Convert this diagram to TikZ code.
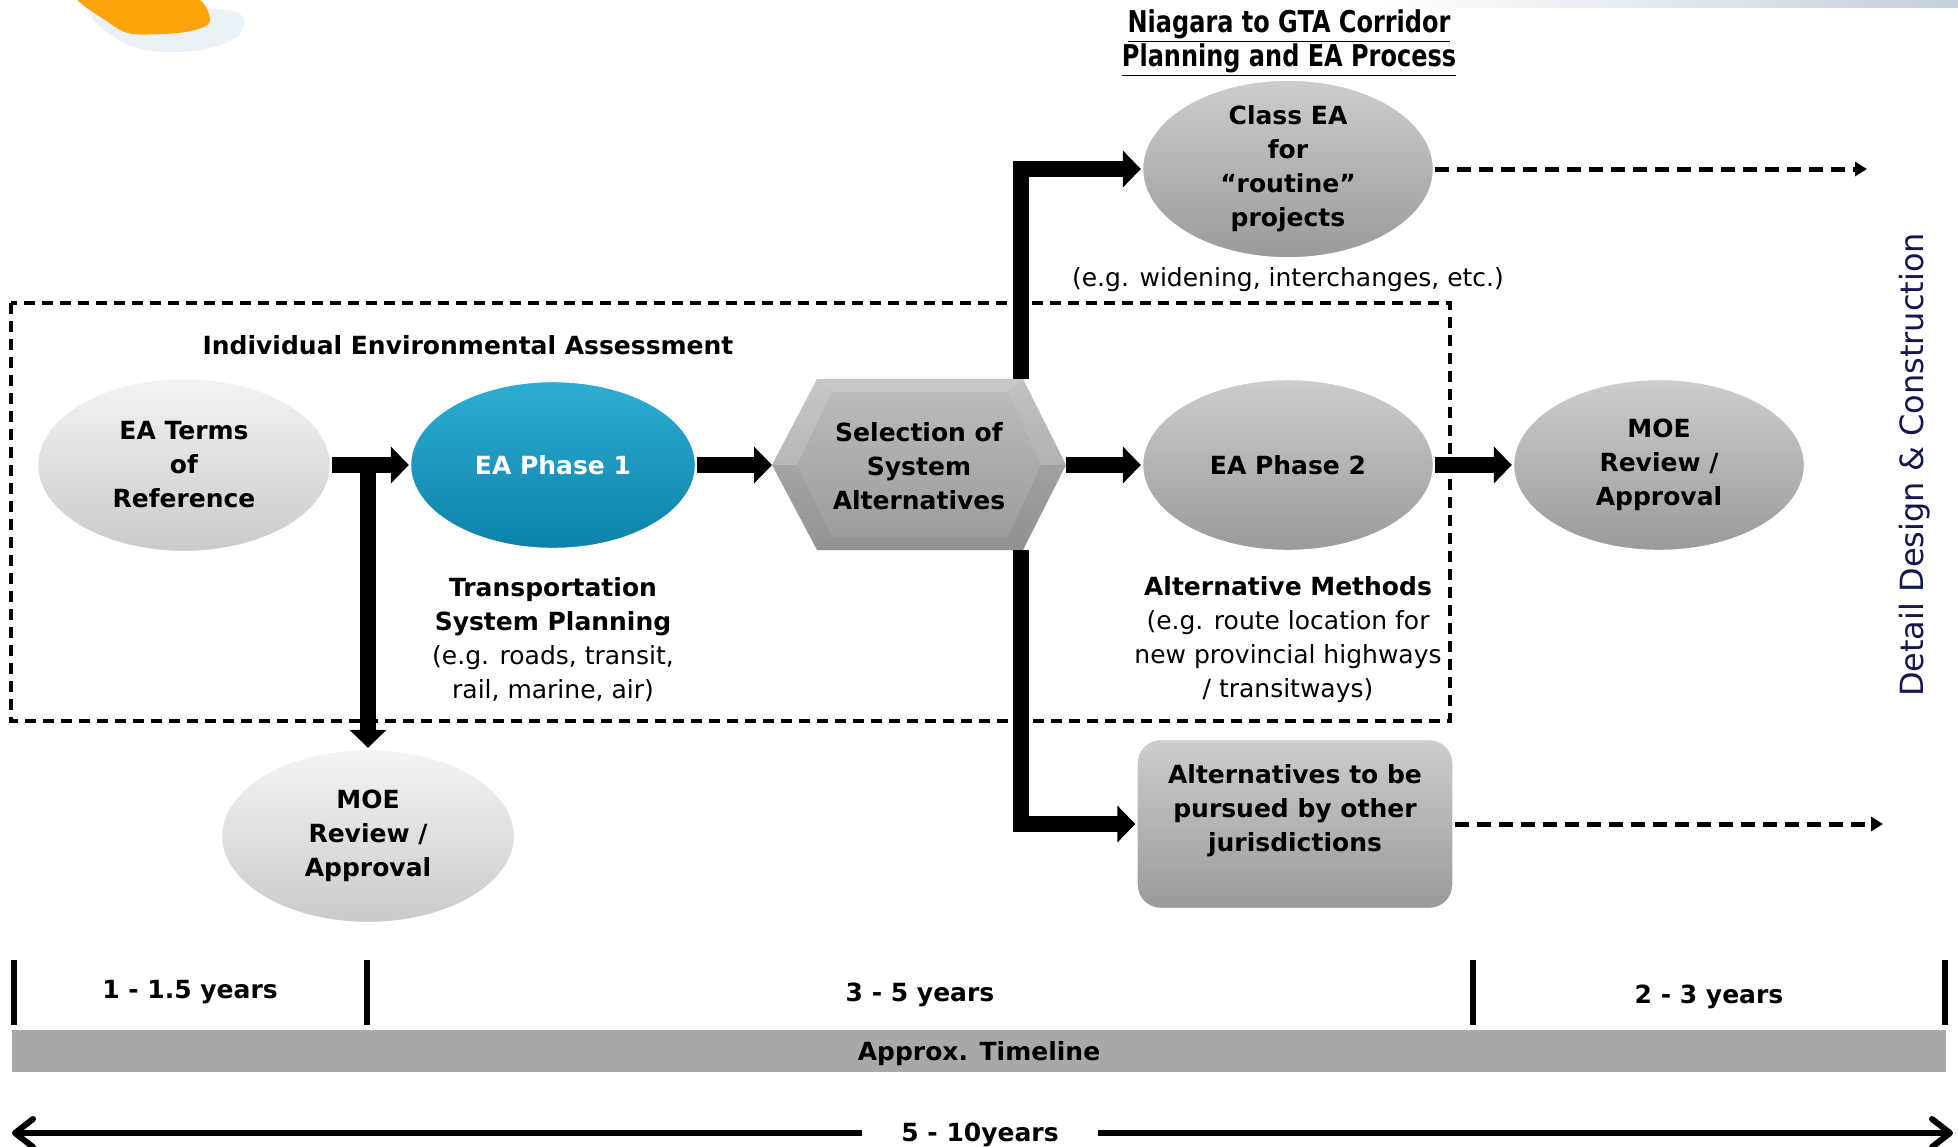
\documentclass[tikz,border=0pt]{standalone}
\usepackage{fontspec}
\setmainfont{DejaVu Sans}
\newfontfamily\condfont[FakeStretch=0.8]{DejaVu Sans}
\usetikzlibrary{shapes.geometric,arrows.meta}
\definecolor{ttop}{HTML}{2EADD3}
\definecolor{tbot}{HTML}{0C82A8}
\definecolor{gtop}{HTML}{CDCDCD}
\definecolor{gbot}{HTML}{9A9A9A}
\definecolor{ltop}{HTML}{F4F4F4}
\definecolor{lbot}{HTML}{CACACA}
\definecolor{navyc}{HTML}{16164E}
\definecolor{orng}{HTML}{FFA40C}
\definecolor{barc}{HTML}{A8A8A8}
\definecolor{bandc}{HTML}{C3D0DD}
\definecolor{shadc}{HTML}{D5E0EC}
\newcommand\mybasefs{\fontsize{12.5}{17}\selectfont}
\begin{document}
\begin{tikzpicture}[x=0.5pt,y=-0.5pt,font=\mybasefs,
  bx/.style={inner sep=0pt,align=center,font=\mybasefs\bfseries},
  ell/.style={bx,ellipse,minimum width=146pt,minimum height=86pt,draw=white,line width=1.2pt},
  lightell/.style={ell,top color=ltop,bottom color=lbot},
  grayell/.style={ell,top color=gtop,bottom color=gbot},
  tealell/.style={ell,top color=ttop,bottom color=tbot,text=white},
  flow/.style={line width=8pt,-{Triangle[length=9pt,width=18pt]}},
  dflow/.style={line width=2.5pt,dash pattern=on 7pt off 4pt,-{Triangle[length=6pt,width=7pt]}},
  tick/.style={line width=2.6pt},
  note/.style={align=center,inner sep=0pt,font=\mybasefs},
  total/.style={line width=3pt,-{Straight Barb[length=9pt,width=14pt,round]}}]
\useasboundingbox (0,0) rectangle (1958,1146);

% decorative fragments at the top
\fill[shadc,opacity=0.45] plot[smooth cycle,tension=0.6] coordinates {(100,12) (228,10) (240,34) (200,50) (145,50) (110,34)};
\fill[orng] plot[smooth cycle,tension=0.5] coordinates {(78,-6) (188,-6) (210,21) (186,32) (133,34) (108,22)};
\shade[left color=white,right color=bandc] (1380,0) rectangle (1958,7);

% dashed frame
\draw[line width=1.8pt,dash pattern=on 5.5pt off 3.5pt] (11,303) rectangle (1450,721);
\node[bx] (iea) at (468,345) {Individual Environmental Assessment};

% heading
\node[align=center,inner sep=0pt,font=\fontsize{15}{17}\condfont\bfseries] (head) at (1289,43)
  {\underline{Niagara to GTA Corridor}\\\underline{Planning and EA Process}};

% nodes
\node[lightell,minimum width=147pt,minimum height=87pt] (tor) at (184,465) {EA Terms\\of\\Reference};
\node[tealell,minimum width=143pt,minimum height=84pt] (ph1) at (553,465) {EA Phase 1};
\node[grayell] (ph2) at (1288,465) {EA Phase 2};
\node[grayell] (moer) at (1659,465) {MOE\\Review /\\Approval};
\node[grayell] (cls) at (1288,169) {Class EA\\for\\“routine”\\projects};
\node[lightell,minimum width=147pt,minimum height=87pt] (moeb) at (368,836) {MOE\\Review /\\Approval};

% hexagon
\coordinate (hexL) at (772,465);
\coordinate (hexR) at (1066,465);
\coordinate (hexTR) at (1021,379);
\coordinate (hexBR) at (1021,550);
\shade[top color=gtop!92!black,bottom color=gbot] (772,465) -- (817,379) -- (1023,379) -- (1066,465) -- (1023,550) -- (817,550) -- cycle;
\fill[white,opacity=0.15] (772,465) -- (817,379) -- (832,392) -- (797,465) -- cycle;
\fill[black,opacity=0.04] (772,465) -- (797,465) -- (832,537) -- (817,550) -- cycle;
\fill[white,opacity=0.18] (817,379) -- (1023,379) -- (1008,392) -- (832,392) -- cycle;
\fill[white,opacity=0.08] (1023,379) -- (1066,465) -- (1041,465) -- (1008,392) -- cycle;
\fill[black,opacity=0.06] (1066,465) -- (1023,550) -- (1008,537) -- (1041,465) -- cycle;
\fill[black,opacity=0.05] (817,550) -- (1023,550) -- (1008,537) -- (832,537) -- cycle;
\node[bx] (sel) at (919,466) {Selection of\\System\\Alternatives};

% rounded rectangle
\node[rectangle,rounded corners=12pt,minimum width=158.5pt,minimum height=85pt,draw=white,line width=1.2pt,
      top color=gtop,bottom color=gbot,inner sep=0pt] (alt) at (1295,824) {};
\node[bx] (altt) at (1295,811) {Alternatives to be\\pursued by other\\jurisdictions};

% notes
\node[note] (wid) at (1288,280) {(e.g. widening, interchanges, etc.)};
\node[note] (tsp) at (553,640) {\textbf{Transportation}\\\textbf{System Planning}\\(e.g. roads, transit,\\rail, marine, air)};
\node[note] (amt) at (1288,640) {\textbf{Alternative Methods}\\(e.g. route location for\\new provincial highways\\/ transitways)};
\node[rotate=90,inner sep=0pt,text=navyc,font=\fontsize{16}{18}\selectfont] (ddc) at (1915,465) {Detail Design \& Construction};

% connectors
\draw[flow] (tor.east) -- (ph1.west);
\draw[flow] (moeb.north |- ph1.west) -- (moeb.north);
\draw[flow] (ph1.east) -- (hexL);
\draw[flow] (hexR) -- (ph2.west);
\draw[flow] (ph2.east) -- (moer.west);
\draw[flow] (hexTR) |- (cls.west);
\draw[flow] (hexBR) |- (alt.west);
\coordinate (d1) at (1867,169);
\coordinate (d2) at (1883,824);
\draw[dflow] (cls.east) -- (d1);
\draw[dflow] (alt.east) -- (d2);

% timeline
\draw[tick] (14,960) -- (14,1025);
\draw[tick] (367,960) -- (367,1025);
\draw[tick] (1473,960) -- (1473,1025);
\draw[tick] (1945,960) -- (1945,1025);
\node[bx] (t1) at (190,992) {1 - 1.5 years};
\node[bx] (t2) at (920,995) {3 - 5 years};
\node[bx] (t3) at (1709,997) {2 - 3 years};
\node[rectangle,fill=barc,minimum width=967pt,minimum height=21pt,inner sep=0pt] (bar) at (979,1051) {};
\node[bx] (bart) at (979,1054) {Approx. Timeline};
\node[bx,inner xsep=19.5pt] (tot) at (980,1135) {5 - 10years};
\coordinate (tl) at (12,1133);
\coordinate (tr) at (1953,1133);
\draw[total] (tot.west |- tl) -- (tl);
\draw[total] (tot.east |- tr) -- (tr);
\end{tikzpicture}
\end{document}
